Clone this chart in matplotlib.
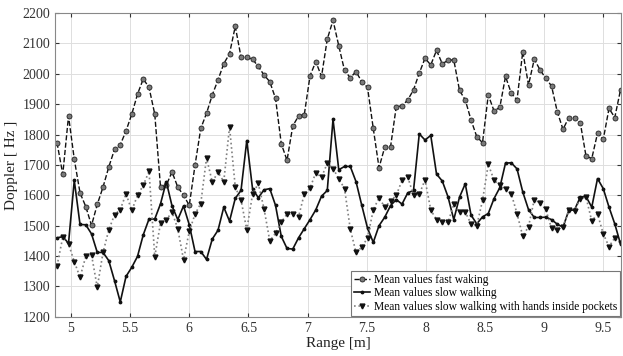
import numpy as np
import matplotlib
matplotlib.use("Agg")
import matplotlib.pyplot as plt

plt.rcParams['font.family'] = ['Liberation Serif', 'DejaVu Serif']
plt.rcParams['mathtext.fontset'] = 'stix'

# Range grid (m): first sample and sample spacing
range_start = 4.882
range_step = 0.0486

fast_walking = [
    1773, 1669, 1861, 1719, 1608, 1563, 1501, 1570, 1627, 1693,
    1751, 1766, 1812, 1867, 1933, 1983, 1955, 1867, 1627, 1633,
    1677, 1627, 1600, 1567, 1699, 1820, 1870, 1930, 1980, 2033,
    2066, 2156, 2055, 2054, 2048, 2024, 1996, 1974, 1919, 1770,
    1715, 1828, 1861, 1865, 1993, 2040, 1991, 2114, 2176, 2092,
    2011, 1987, 2007, 1974, 1955, 1820, 1691, 1759, 1759, 1892,
    1894, 1914, 1947, 2002, 2051, 2029, 2077, 2033, 2044, 2046,
    1945, 1914, 1848, 1793, 1773, 1930, 1878, 1889, 1991, 1936,
    1914, 2073, 1963, 2048, 2013, 1985, 1960, 1875, 1817, 1856,
    1856, 1839, 1729, 1721, 1804, 1784, 1886, 1856, 1947,
]

slow_walking = [
    1460, 1464, 1442, 1649, 1504, 1503, 1473, 1412, 1412, 1385,
    1319, 1249, 1333, 1363, 1399, 1470, 1522, 1522, 1572, 1645,
    1565, 1520, 1565, 1503, 1415, 1415, 1389, 1456, 1485, 1561,
    1515, 1590, 1616, 1780, 1622, 1592, 1618, 1622, 1567, 1465,
    1425, 1423, 1460, 1490, 1520, 1552, 1597, 1616, 1850, 1684,
    1695, 1695, 1645, 1567, 1492, 1445, 1500, 1528, 1566, 1586,
    1571, 1608, 1616, 1802, 1782, 1797, 1670, 1647, 1595, 1520,
    1594, 1638, 1535, 1506, 1529, 1540, 1589, 1625, 1706, 1707,
    1687, 1611, 1553, 1527, 1527, 1528, 1520, 1505, 1495, 1550,
    1552, 1594, 1596, 1561, 1655, 1622, 1561, 1506, 1440,
]

slow_hands_pockets = [
    1368, 1462, 1440, 1382, 1330, 1399, 1404, 1297, 1412, 1486,
    1536, 1553, 1605, 1550, 1600, 1633, 1679, 1398, 1509, 1519,
    1545, 1490, 1388, 1481, 1538, 1573, 1723, 1644, 1676, 1645,
    1825, 1627, 1585, 1486, 1603, 1639, 1556, 1450, 1475, 1512,
    1538, 1538, 1529, 1604, 1624, 1674, 1660, 1705, 1688, 1655,
    1622, 1489, 1412, 1429, 1460, 1552, 1592, 1561, 1581, 1600,
    1649, 1660, 1600, 1603, 1651, 1552, 1519, 1511, 1511, 1570,
    1545, 1545, 1506, 1500, 1583, 1702, 1650, 1633, 1620, 1605,
    1540, 1465, 1497, 1586, 1575, 1554, 1491, 1487, 1497, 1550,
    1548, 1589, 1594, 1515, 1539, 1473, 1431, 1460, 1442,
]

labels = [
    "Mean values fast waking",
    "Mean values slow walking",
    "Mean values slow walking with hands inside pockets",
]
x_ticks = [5, 5.5, 6, 6.5, 7, 7.5, 8, 8.5, 9, 9.5]
x_tick_labels = ["5", "5.5", "6", "6.5", "7", "7.5", "8", "8.5", "9", "9.5"]
y_ticks = list(range(1200, 2201, 100))

rng = range_start + range_step * np.arange(len(fast_walking))

fig = plt.figure(figsize=(6.23, 3.56), dpi=100)
ax = fig.add_axes([0.0883, 0.110, 0.9087, 0.8535])

ax.plot(rng, fast_walking, linestyle='--', color='#111111', linewidth=1.0,
        marker='o', markersize=3.6, markerfacecolor='#7a7a7a',
        markeredgecolor='#222222', markeredgewidth=0.6, label=labels[0])
ax.plot(rng, slow_walking, linestyle='-', color='#111111', linewidth=1.2,
        marker='.', markersize=3.5, label=labels[1])
ax.plot(rng, slow_hands_pockets, linestyle=':', color='#808080', linewidth=1.2,
        marker='v', markersize=3.5, markerfacecolor='#111111',
        markeredgecolor='#111111', label=labels[2])

ax.set_xlim(4.865, 9.65)
ax.set_ylim(1200, 2200)
ax.set_xticks(x_ticks)
ax.set_xticklabels(x_tick_labels)
ax.set_yticks(y_ticks)
ax.grid(True, color='#dedede', linewidth=0.7)
ax.set_axisbelow(True)
ax.tick_params(direction='in', top=True, right=True, labelsize=10, length=3,
               colors='#333333')
for s in ax.spines.values():
    s.set_color('#888888')
    s.set_linewidth(0.8)

ax.set_xlabel("Range [m]", fontsize=11, color='#222222', labelpad=2)
ax.set_ylabel("Doppler [ Hz ]", fontsize=11, color='#222222', labelpad=3)

leg = ax.legend(loc='lower right', fontsize=8.3, handlelength=1.4,
                handletextpad=0.3, borderaxespad=0.1, borderpad=0.25,
                labelspacing=0.12, fancybox=False, framealpha=1.0,
                edgecolor='#777777')
leg.get_frame().set_linewidth(0.8)

fig.savefig("out.png", dpi=100)
